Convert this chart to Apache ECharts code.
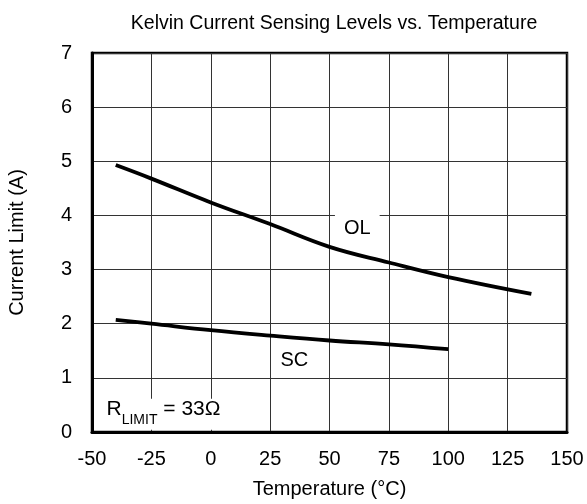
<!DOCTYPE html>
<html><head><meta charset="utf-8">
<script src="https://cdn.jsdelivr.net/npm/echarts@6/dist/echarts.min.js"></script>
<style>html,body{margin:0;padding:0;background:#fff}#c{width:587px;height:504px}</style>
</head><body><div id="c"></div>
<script>
const olTemps = [-40, -25, 0, 25, 50, 75, 100, 135];
const olValues = [4.93, 4.68, 4.24, 3.84, 3.42, 3.13, 2.86, 2.55];
const scTemps = [-40, -25, 0, 25, 50, 75, 100];
const scValues = [2.07, 2.0, 1.88, 1.78, 1.69, 1.62, 1.53];
const xTicks = [-50, -25, 0, 25, 50, 75, 100, 125, 150];
const yTicks = [0, 1, 2, 3, 4, 5, 6, 7];
const font = 'Liberation Sans, Arial, sans-serif';

const chart = echarts.init(document.getElementById('c'));
const txt = {fontFamily: font, fontSize: 20, color: '#000'};
chart.setOption({
  animation: false,
  backgroundColor: '#fff',
  title: {
    text: 'Kelvin Current Sensing Levels vs. Temperature',
    left: 329, top: 9, textAlign: 'center',
    textStyle: {fontFamily: font, fontSize: 19.5, fontWeight: 'normal', color: '#000'}
  },
  grid: {left: 92, right: 20, top: 53, bottom: 72, outerBoundsMode: 'none', containLabel: false,
    show: true, borderColor: '#000', borderWidth: 2.5, backgroundColor: 'transparent'},
  xAxis: {
    type: 'value', min: xTicks[0], max: xTicks[xTicks.length-1], interval: 25,
    name: 'Temperature (°C)', nameLocation: 'middle', nameGap: 47,
    nameTextStyle: txt,
    axisLine: {show: true, onZero: false, lineStyle: {color: '#000', width: 3}},
    axisTick: {show: false},
    axisLabel: Object.assign({margin: 17}, txt),
    splitLine: {show: true, lineStyle: {color: '#333', width: 1}}
  },
  yAxis: {
    type: 'value', min: yTicks[0], max: yTicks[yTicks.length-1], interval: 1,
    name: 'Current Limit (A)', nameLocation: 'middle', nameGap: 65, nameRotate: 90,
    nameTextStyle: txt,
    axisLine: {show: true, onZero: false, lineStyle: {color: '#000', width: 3}},
    axisTick: {show: false},
    axisLabel: Object.assign({margin: 20}, txt),
    splitLine: {show: true, lineStyle: {color: '#333', width: 1}}
  },
  series: [
    {
      type: 'line', name: 'OL', smooth: 0.4, symbol: 'none',
      data: olTemps.map((t, i) => [t, olValues[i]]),
      lineStyle: {color: '#000', width: 3.8},
      markPoint: {
        symbol: 'circle', symbolSize: 0, itemStyle: {color: 'transparent'},
        data: [{coord: [61.7, 3.76], label: {show: true, position: 'inside', formatter: 'OL', fontFamily: font, fontSize: 20, lineHeight: 20, color: '#000', backgroundColor: '#fff', padding: [10, 9, 1, 9]}}]
      }
    },
    {
      type: 'line', name: 'SC', smooth: 0.4, symbol: 'none',
      data: scTemps.map((t, i) => [t, scValues[i]]),
      lineStyle: {color: '#000', width: 3.8},
      markPoint: {
        symbol: 'circle', symbolSize: 0, itemStyle: {color: 'transparent'},
        data: [
          {coord: [35.2, 1.32], label: {show: true, position: 'inside', formatter: 'SC', fontFamily: font, fontSize: 20, color: '#000'}},
          {coord: [-19.9, 0.33], label: {show: true, position: 'inside', formatter: '{r|R}{s|LIMIT}{r| = 33Ω}',
            backgroundColor: '#fff', padding: [0, 4, 5, 4],
            rich: {
              r: {fontFamily: font, fontSize: 21, color: '#000', lineHeight: 26, verticalAlign: 'top'},
              s: {fontFamily: font, fontSize: 14, color: '#000', lineHeight: 14, padding: [15, 0, 0, 0], verticalAlign: 'top'}
            }}}
        ]
      }
    }
  ]
});
</script></body></html>
